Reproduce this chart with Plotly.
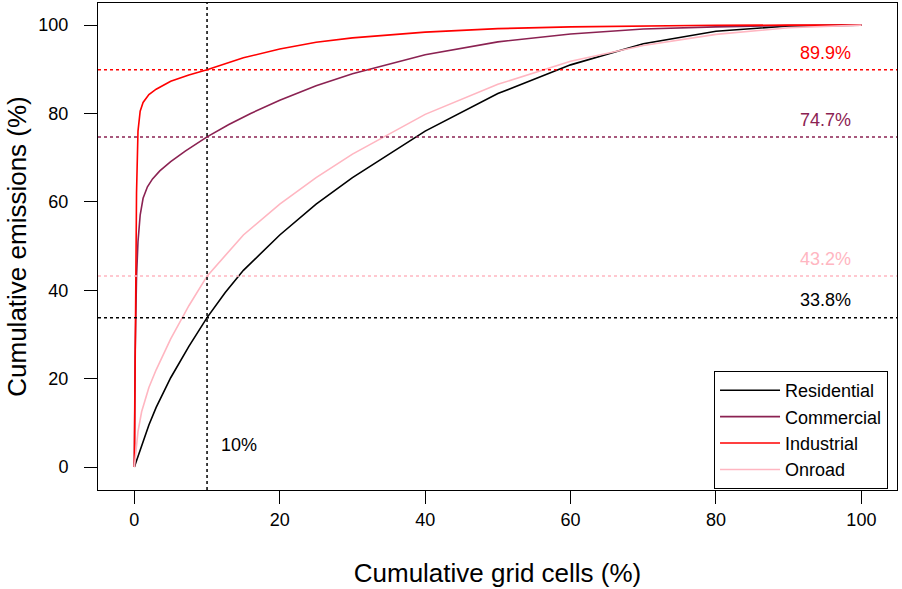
import plotly.graph_objects as go

# ---- data ----
res_x = [0, 0.5, 1, 2, 3, 5, 7.5, 10, 12.5, 15, 20, 25, 30, 40, 50, 60, 70, 80, 90, 100]
res_y = [0, 2.5, 5, 9.5, 13.5, 20.2, 27.3, 33.8, 39.5, 44.5, 52.5, 59.5, 65.5, 76, 84.5, 91, 95.8, 98.6, 99.8, 100]

com_x = [0, 0.1, 0.3, 0.5, 0.8, 1.2, 1.8, 2.5, 3.5, 5, 7, 10, 13, 16, 20, 25, 30, 40, 50, 60, 70, 80, 90, 100]
com_y = [0, 25, 43, 51, 57, 60.8, 63.4, 65.2, 67, 69.1, 71.5, 74.7, 77.5, 80, 83, 86.3, 89, 93.3, 96.2, 98, 99.1, 99.6, 99.9, 100]

ind_x = [0, 0.1, 0.3, 0.5, 0.8, 1.2, 2, 3, 5, 7.5, 10, 15, 20, 25, 30, 40, 50, 60, 70, 80, 90, 100]
ind_y = [0, 30, 62, 76, 80.5, 82.5, 84.3, 85.5, 87.3, 88.7, 89.9, 92.6, 94.6, 96.1, 97.1, 98.4, 99.2, 99.6, 99.85, 99.95, 100, 100]

onr_x = [0, 0.5, 1, 2, 3, 5, 7.5, 10, 15, 20, 25, 30, 40, 50, 60, 70, 80, 90, 100]
onr_y = [0, 8, 12.5, 18, 22, 29, 36.5, 43.2, 52.5, 59.5, 65.5, 70.8, 79.8, 86.6, 91.8, 95.4, 97.9, 99.4, 100]

series_names = ["Residential", "Commercial", "Industrial", "Onroad"]
series_colors = ["#000000", "#8B2252", "#FF0000", "#FFB6C1"]
cut_x = 10
cut_values = [33.8, 74.7, 89.9, 43.2]
cut_labels = ["33.8%", "74.7%", "89.9%", "43.2%"]

xs = [res_x, com_x, ind_x, onr_x]
ys = [res_y, com_y, ind_y, onr_y]

FONT = "Liberation Sans, Arial, sans-serif"

fig = go.Figure()
for name, color, x, y in zip(series_names, series_colors, xs, ys):
    fig.add_trace(go.Scatter(x=x, y=y, mode="lines", name=name,
                             line=dict(color=color, width=1.6)))

# dotted reference lines
fig.add_vline(x=cut_x, line=dict(color="black", width=1.5, dash="dot"))
for v, c, lab in zip(cut_values, series_colors, cut_labels):
    fig.add_hline(y=v, line=dict(color=c, width=1.5, dash="dot"))
    fig.add_annotation(x=95, y=v + 3.9, text=lab, showarrow=False,
                       font=dict(size=18, color=c, family=FONT))
fig.add_annotation(x=cut_x + 1.7, y=5, text="10%", showarrow=False, xanchor="left",
                   font=dict(size=18, color="black", family=FONT))

fig.update_layout(
    width=902, height=589,
    margin=dict(l=98, r=5, t=3, b=99, autoexpand=False),
    paper_bgcolor="white", plot_bgcolor="white",
    font=dict(family=FONT, size=18, color="black"),
    showlegend=True,
    legend=dict(x=0.771, y=0.002, xanchor="left", yanchor="bottom",
                bordercolor="black", borderwidth=1, bgcolor="white",
                font=dict(size=18, family=FONT), tracegroupgap=0,
                itemwidth=60),
)
fig.update_xaxes(range=[-5, 104.9], tickvals=[0, 20, 40, 60, 80, 100],
                 showgrid=False, zeroline=False, showline=True, mirror=True,
                 linecolor="black", linewidth=1, ticks="outside", ticklen=13,
                 tickcolor="black", tickfont=dict(size=18), automargin=False,
                 title=dict(text="Cumulative grid cells (%)", font=dict(size=26), standoff=35))
fig.update_yaxes(range=[-5.2, 105], tickvals=[0, 20, 40, 60, 80, 100],
                 showgrid=False, zeroline=False, showline=True, mirror=True,
                 linecolor="black", linewidth=1, ticks="outside", ticklen=13,
                 tickcolor="black", tickfont=dict(size=18), automargin=False,
                 ticklabelposition="outside", ticklabelstandoff=12,
                 title=dict(text="Cumulative emissions (%)", font=dict(size=26), standoff=4))

fig.write_html("out.html", config={"displayModeBar": False},
               post_script="document.body.style.margin='0';")
